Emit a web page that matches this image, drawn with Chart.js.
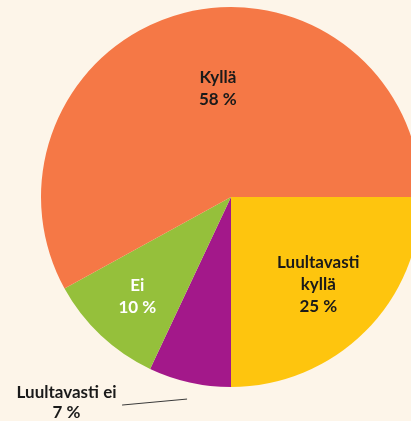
<!DOCTYPE html>
<html><head><meta charset="utf-8">
<script src="https://cdn.jsdelivr.net/npm/chart.js@4"></script>
<style>
html,body{margin:0;padding:0;background:#fdf5e9;width:411px;height:421px;overflow:hidden;position:relative}
#wrap{position:absolute;left:0;top:0;width:462px;height:421px}
</style></head><body>
<div id="wrap"><canvas id="c"></canvas></div>
<script>
const categories = ["Luultavasti kyllä", "Luultavasti ei", "Ei", "Kyllä"];
const values = [25, 7, 10, 58];
const labelLines = [["Luultavasti", "kyllä", "25 %"], ["Luultavasti ei", "7 %"], ["Ei", "10 %"], ["Kyllä", "58 %"]];
const colors = ["#fec50e", "#a3188a", "#95c03b", "#f57846"];
const textColors = ["#1a1a1a", "#1a1a1a", "#ffffff", "#1a1a1a"];

const labelPlugin = {
  id: 'sliceLabels',
  afterDatasetsDraw(chart) {
    const ctx = chart.ctx;
    const meta = chart.getDatasetMeta(0);
    const lh = 22;
    // placement: [angle offset (deg), radius fraction]
    const place = [[0, 0.65], null, [0, 0.72], [7.5, 0.575]];
    ctx.save();
    ctx.font = "bold 17px Lato, 'DejaVu Sans', sans-serif";
    ctx.textAlign = 'center';
    ctx.textBaseline = 'middle';
    meta.data.forEach((arc, i) => {
      const lines = labelLines[i];
      const p = place[i];
      const cx = arc.x, cy = arc.y, r = arc.outerRadius;
      if (p) {
        const a = (arc.startAngle + arc.endAngle) / 2 + p[0] * Math.PI / 180;
        const x = cx + Math.cos(a) * r * p[1];
        const y = cy + Math.sin(a) * r * p[1];
        ctx.fillStyle = textColors[i];
        const y0 = y - (lines.length - 1) * lh / 2;
        lines.forEach((t, k) => ctx.fillText(t, x, y0 + k * lh));
      } else {
        const a = (arc.startAngle + arc.endAngle) / 2;
        const ex = cx + Math.cos(a) * r * 1.06, ey = cy + Math.sin(a) * r * 1.06;
        ctx.strokeStyle = '#3a3a3a';
        ctx.lineWidth = 1;
        ctx.beginPath();
        ctx.moveTo(ex, ey + 5.5);
        ctx.lineTo(ex - 65, ey + 11.5);
        ctx.stroke();
        ctx.fillStyle = textColors[i];
        const tx = ex - 120.5, ty = ey - 1.5;
        lines.forEach((t, k) => ctx.fillText(t, tx, ty + k * 20));
      }
    });
    ctx.restore();
  }
};

new Chart(document.getElementById('c'), {
  type: 'pie',
  data: { labels: categories, datasets: [{ data: values, backgroundColor: colors, borderWidth: 0 }] },
  options: {
    responsive: true, maintainAspectRatio: false, animation: false,
    rotation: 90,
    layout: { padding: { top: 7, bottom: 34, left: 0, right: 0 } },
    plugins: { legend: { display: false }, tooltip: { enabled: false } }
  },
  plugins: [labelPlugin]
});
</script>
</body></html>
